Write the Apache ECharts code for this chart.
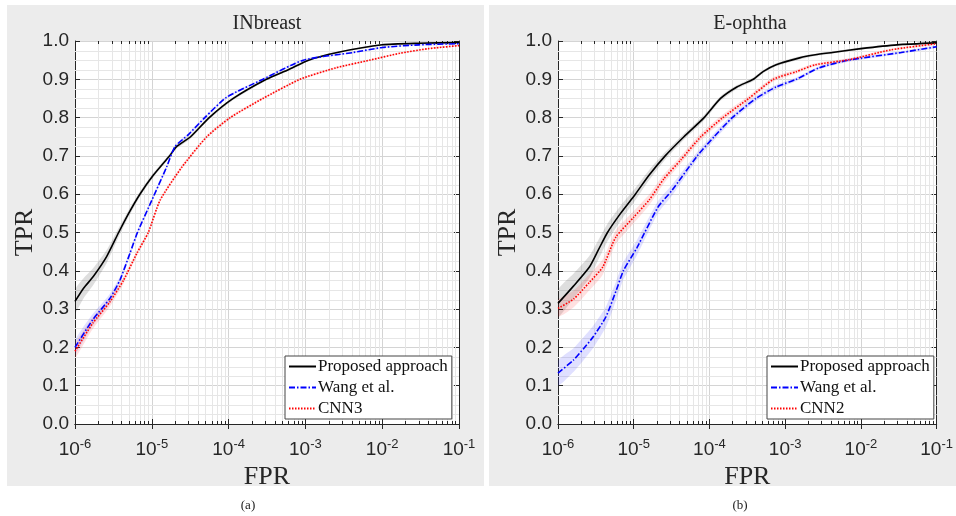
<!DOCTYPE html>
<html>
<head>
<meta charset="utf-8">
<script src="https://cdn.jsdelivr.net/npm/echarts@6/dist/echarts.min.js"></script>
<style>
  html, body { margin: 0; padding: 0; background: #fff; }
  #chart { width: 956px; height: 516px; }
</style>
</head>
<body>
<div id="chart"></div>
<script>
// INbreast panel
const inbProposedFpr = [1e-6, 1.3e-6, 1.73e-6, 2.58e-6, 3.7e-6, 5e-6, 7e-6, 1.05e-5, 1.7e-5, 2.1e-5, 3.2e-5, 5.6e-5, 1.15e-4, 3.1e-4, 6e-4, 1.1e-3, 2.6e-3, 1e-2, 3e-2, 1e-1];
const inbProposedTpr = [0.32, 0.355, 0.385, 0.437, 0.50, 0.55, 0.60, 0.65, 0.70, 0.724, 0.75, 0.80, 0.85, 0.90, 0.925, 0.95, 0.97, 0.99, 0.994, 0.996];
const inbProposedBand = [0.03, 0.026, 0.022, 0.017, 0.012, 0.009, 0.007, 0.006, 0.005, 0.005, 0.005, 0.004, 0.004, 0.003, 0.003, 0.003, 0.002, 0.002, 0.002, 0.002];

const inbWangFpr = [1e-6, 1.7e-6, 2.85e-6, 3.85e-6, 5.2e-6, 6.5e-6, 1e-5, 1.56e-5, 2e-5, 2.97e-5, 4.9e-5, 9.4e-5, 2.8e-4, 9.4e-4, 4.2e-3, 1e-2, 3e-2, 1e-1];
const inbWangTpr = [0.20, 0.272, 0.328, 0.376, 0.446, 0.50, 0.584, 0.671, 0.724, 0.755, 0.80, 0.853, 0.90, 0.95, 0.97, 0.983, 0.99, 0.993];
const inbWangBand = [0.018, 0.015, 0.012, 0.009, 0.007, 0.006, 0.005, 0.005, 0.004, 0.004, 0.004, 0.003, 0.003, 0.003, 0.002, 0.002, 0.002, 0.002];

const inbCnnFpr = [1e-6, 1.7e-6, 2.85e-6, 4.3e-6, 6.4e-6, 9e-6, 1.28e-5, 2.45e-5, 5.2e-5, 1.05e-4, 2.8e-4, 8.5e-4, 2.5e-3, 6.9e-3, 1.7e-2, 4e-2, 1e-1];
const inbCnnTpr = [0.19, 0.263, 0.319, 0.376, 0.446, 0.50, 0.584, 0.67, 0.75, 0.80, 0.85, 0.90, 0.93, 0.95, 0.968, 0.98, 0.988];
const inbCnnBand = [0.018, 0.015, 0.012, 0.009, 0.007, 0.006, 0.005, 0.005, 0.004, 0.004, 0.003, 0.003, 0.003, 0.002, 0.002, 0.002, 0.002];

// E-ophtha panel
const eoProposedFpr = [1e-6, 1.6e-6, 2.6e-6, 3.4e-6, 4.5e-6, 6.7e-6, 1.05e-5, 1.6e-5, 2.6e-5, 4.6e-5, 8.5e-5, 1.4e-4, 2.3e-4, 3.8e-4, 5.1e-4, 7.6e-4, 1.55e-3, 2.5e-3, 4.2e-3, 1e-2, 3e-2, 1e-1];
const eoProposedTpr = [0.315, 0.36, 0.41, 0.454, 0.50, 0.55, 0.60, 0.65, 0.70, 0.75, 0.80, 0.85, 0.88, 0.90, 0.92, 0.938, 0.956, 0.964, 0.97, 0.98, 0.99, 0.995];
const eoProposedBand = [0.035, 0.032, 0.029, 0.026, 0.023, 0.02, 0.016, 0.013, 0.01, 0.008, 0.007, 0.006, 0.005, 0.005, 0.004, 0.004, 0.004, 0.003, 0.003, 0.003, 0.002, 0.002];

const eoWangFpr = [1e-6, 1.6e-6, 2.2e-6, 2.9e-6, 4.3e-6, 5.9e-6, 7.3e-6, 1.1e-5, 2.1e-5, 3.2e-5, 6.9e-5, 1.15e-4, 2e-4, 4.1e-4, 7.6e-4, 1.4e-3, 2.8e-3, 6.9e-3, 3.4e-2, 1e-1];
const eoWangTpr = [0.133, 0.167, 0.198, 0.227, 0.28, 0.35, 0.40, 0.46, 0.567, 0.61, 0.70, 0.75, 0.80, 0.85, 0.88, 0.90, 0.93, 0.95, 0.97, 0.985];
const eoWangBand = [0.032, 0.031, 0.03, 0.029, 0.027, 0.025, 0.023, 0.02, 0.016, 0.014, 0.01, 0.009, 0.008, 0.007, 0.006, 0.005, 0.004, 0.004, 0.003, 0.003];

const eoCnnFpr = [1e-6, 1.6e-6, 2.6e-6, 3.9e-6, 5.8e-6, 1e-5, 1.6e-5, 2.5e-5, 4.2e-5, 7.7e-5, 1.5e-4, 3.3e-4, 7e-4, 1.4e-3, 2.5e-3, 6.9e-3, 2.5e-2, 1e-1];
const eoCnnTpr = [0.302, 0.326, 0.37, 0.41, 0.488, 0.54, 0.585, 0.64, 0.69, 0.75, 0.80, 0.85, 0.90, 0.92, 0.938, 0.951, 0.977, 0.993];
const eoCnnBand = [0.022, 0.022, 0.021, 0.02, 0.018, 0.016, 0.014, 0.012, 0.01, 0.009, 0.008, 0.007, 0.006, 0.005, 0.004, 0.004, 0.003, 0.003];

const SERIF = '"Liberation Serif", "DejaVu Serif", serif';
const SANS = '"Liberation Sans", Arial, sans-serif';
const AX = '#262626';

// minor grid positions: 2..9 per decade, 0.025 steps on y
const minorX = [];
for (let n = -6; n < -1; n++) {
  for (let k = 2; k <= 9; k++) minorX.push(k * Math.pow(10, n));
}
const minorY = [];
for (let i = 1; i < 40; i++) {
  if (i % 4 !== 0) minorY.push(i * 0.025);
}

const pts = (xs, ys) => xs.map((x, i) => [x, ys[i]]);
const crisp = v => Math.round(v) + 0.5;

function minorGrid(g) {
  return [
    {
      type: 'custom', xAxisIndex: g * 2, yAxisIndex: g * 2, silent: true, z: 1,
      data: minorX.map(v => [v, 0]),
      renderItem: (p, api) => {
        const a = api.coord([api.value(0), 0]);
        const b = api.coord([api.value(0), 1]);
        const x = crisp(a[0]);
        return {
          type: 'group', children: [
            { type: 'line', shape: { x1: x, y1: a[1], x2: x, y2: b[1] }, style: { stroke: '#e6e6e6', lineWidth: 1 } },
            { type: 'line', shape: { x1: x, y1: a[1], x2: x, y2: a[1] - 3 }, style: { stroke: AX, lineWidth: 1 } },
            { type: 'line', shape: { x1: x, y1: b[1], x2: x, y2: b[1] + 3 }, style: { stroke: AX, lineWidth: 1 } }
          ]
        };
      }
    },
    {
      type: 'custom', xAxisIndex: g * 2, yAxisIndex: g * 2, silent: true, z: 1,
      data: minorY.map(v => [1e-6, v]),
      renderItem: (p, api) => {
        const a = api.coord([1e-6, api.value(1)]);
        const b = api.coord([1e-1, api.value(1)]);
        const y = crisp(a[1]);
        return { type: 'line', shape: { x1: a[0], y1: y, x2: b[0], y2: y }, style: { stroke: '#e6e6e6', lineWidth: 1 } };
      }
    }
  ];
}

function band(g, xs, ys, hw, color) {
  return {
    type: 'custom', xAxisIndex: g * 2, yAxisIndex: g * 2, silent: true, z: 2, clip: true,
    data: [[xs[0], ys[0]]],
    renderItem: (p, api) => {
      const up = xs.map((x, i) => api.coord([x, Math.min(1, ys[i] + hw[i])]));
      const lo = xs.map((x, i) => api.coord([x, ys[i] - hw[i]])).reverse();
      return { type: 'polygon', shape: { points: up.concat(lo), smooth: 0.2 }, style: { fill: color } };
    }
  };
}

function curve(g, name, xs, ys, color, type, width) {
  return {
    name: name, type: 'line', xAxisIndex: g * 2, yAxisIndex: g * 2, z: 3,
    data: pts(xs, ys), showSymbol: false, symbol: 'none',
    smooth: 0.2,
    lineStyle: { color: color, width: width, type: type },
    itemStyle: { color: color }
  };
}

function xAxes(g) {
  const base = { type: 'log', logBase: 10, min: 1e-6, max: 1e-1, gridIndex: g };
  return [
    Object.assign({}, base, {
      position: 'bottom',
      name: 'FPR', nameLocation: 'middle', nameGap: 36,
      nameTextStyle: { fontFamily: SERIF, fontSize: 26, color: AX },
      axisLine: { lineStyle: { color: AX, width: 1 } },
      axisTick: { inside: true, length: 5, lineStyle: { color: AX } },
      splitLine: { show: true, lineStyle: { color: '#d4d4d4', width: 1 } },
      axisLabel: {
        margin: 14, color: AX,
        formatter: v => '{b|10}{s|' + Math.round(Math.log10(v)) + '}',
        rich: {
          b: { fontFamily: SANS, fontSize: 19, color: AX },
          s: { fontFamily: SANS, fontSize: 13, color: AX, verticalAlign: 'bottom', padding: [0, 0, 10, 0] }
        }
      }
    }),
    Object.assign({}, base, {
      position: 'top',
      axisLine: { lineStyle: { color: AX, width: 1 } },
      axisTick: { inside: true, length: 5, lineStyle: { color: AX } },
      axisLabel: { show: false },
      splitLine: { show: false }
    })
  ];
}

function yAxes(g) {
  const base = { type: 'value', min: 0, max: 1, interval: 0.1, gridIndex: g };
  return [
    Object.assign({}, base, {
      position: 'left',
      name: 'TPR', nameLocation: 'middle', nameGap: 37,
      nameTextStyle: { fontFamily: SERIF, fontSize: 26, color: AX },
      axisLine: { show: true, lineStyle: { color: AX, width: 1 } },
      axisTick: { show: true, inside: true, length: 5, lineStyle: { color: AX } },
      splitLine: { show: true, lineStyle: { color: '#d4d4d4', width: 1 } },
      axisLabel: {
        margin: 6, color: AX, fontFamily: SANS, fontSize: 19,
        formatter: v => v.toFixed(1)
      }
    }),
    Object.assign({}, base, {
      position: 'right',
      axisLine: { show: true, lineStyle: { color: AX, width: 1 } },
      axisTick: { show: true, inside: true, length: 5, lineStyle: { color: AX } },
      axisLabel: { show: false },
      splitLine: { show: false }
    })
  ];
}

function legend(left, names) {
  return {
    data: names, orient: 'vertical', left: left, top: 356,
    backgroundColor: '#fff', borderColor: '#444', borderWidth: 1,
    padding: [2, 4, 2, 3], itemGap: 4, itemWidth: 27, itemHeight: 15,
    itemStyle: { opacity: 0 },
    textStyle: { fontFamily: SERIF, fontSize: 17, color: '#111', padding: [0, 0, 0, -3] },
    selectedMode: false
  };
}

const chart = echarts.init(document.getElementById('chart'));
chart.setOption({
  animation: false,
  backgroundColor: '#fff',
  grid: [
    { left: 75, top: 41, width: 384, height: 383, show: true, backgroundColor: '#fff', borderWidth: 0 },
    { left: 558, top: 41, width: 384, height: 383, show: true, backgroundColor: '#fff', borderWidth: 0 }
  ],
  graphic: [
    { type: 'rect', z: -100, shape: { x: 7, y: 5, width: 477, height: 481 }, style: { fill: '#ececec' } },
    { type: 'rect', z: -100, shape: { x: 489, y: 5, width: 467, height: 481 }, style: { fill: '#ececec' } },
    { type: 'text', z: 100, x: 267, y: 24, style: { text: 'INbreast', font: '20px ' + SERIF, fill: AX, align: 'center', verticalAlign: 'middle' } },
    { type: 'text', z: 100, x: 750, y: 24, style: { text: 'E-ophtha', font: '20px ' + SERIF, fill: AX, align: 'center', verticalAlign: 'middle' } },
    { type: 'text', z: 100, x: 248, y: 506, style: { text: '(a)', font: '13px ' + SERIF, fill: '#222', align: 'center', verticalAlign: 'middle' } },
    { type: 'text', z: 100, x: 740, y: 506, style: { text: '(b)', font: '13px ' + SERIF, fill: '#222', align: 'center', verticalAlign: 'middle' } }
  ],
  xAxis: xAxes(0).concat(xAxes(1)),
  yAxis: yAxes(0).concat(yAxes(1)),
  legend: [
    legend(285, ['Proposed approach', 'Wang et al.', 'CNN3']),
    legend(767, ['Proposed approach', 'Wang et al.', 'CNN2'])
  ],
  series: [].concat(
    minorGrid(0), minorGrid(1),
    [
      band(0, inbProposedFpr, inbProposedTpr, inbProposedBand, 'rgba(0,0,0,0.13)'),
      band(0, inbWangFpr, inbWangTpr, inbWangBand, 'rgba(0,0,255,0.12)'),
      band(0, inbCnnFpr, inbCnnTpr, inbCnnBand, 'rgba(255,0,0,0.12)'),
      band(1, eoProposedFpr, eoProposedTpr, eoProposedBand, 'rgba(0,0,0,0.13)'),
      band(1, eoWangFpr, eoWangTpr, eoWangBand, 'rgba(0,0,255,0.12)'),
      band(1, eoCnnFpr, eoCnnTpr, eoCnnBand, 'rgba(255,0,0,0.12)'),
      curve(0, 'Proposed approach', inbProposedFpr, inbProposedTpr, '#000000', 'solid', 1.6),
      curve(0, 'Wang et al.', inbWangFpr, inbWangTpr, '#0000ff', [6, 2, 1.5, 2], 1.6),
      curve(0, 'CNN3', inbCnnFpr, inbCnnTpr, '#ff0000', [1.5, 1.5], 1.6),
      curve(1, 'Proposed approach', eoProposedFpr, eoProposedTpr, '#000000', 'solid', 1.6),
      curve(1, 'Wang et al.', eoWangFpr, eoWangTpr, '#0000ff', [6, 2, 1.5, 2], 1.6),
      curve(1, 'CNN2', eoCnnFpr, eoCnnTpr, '#ff0000', [1.5, 1.5], 1.6)
    ]
  )
});
</script>
</body>
</html>
